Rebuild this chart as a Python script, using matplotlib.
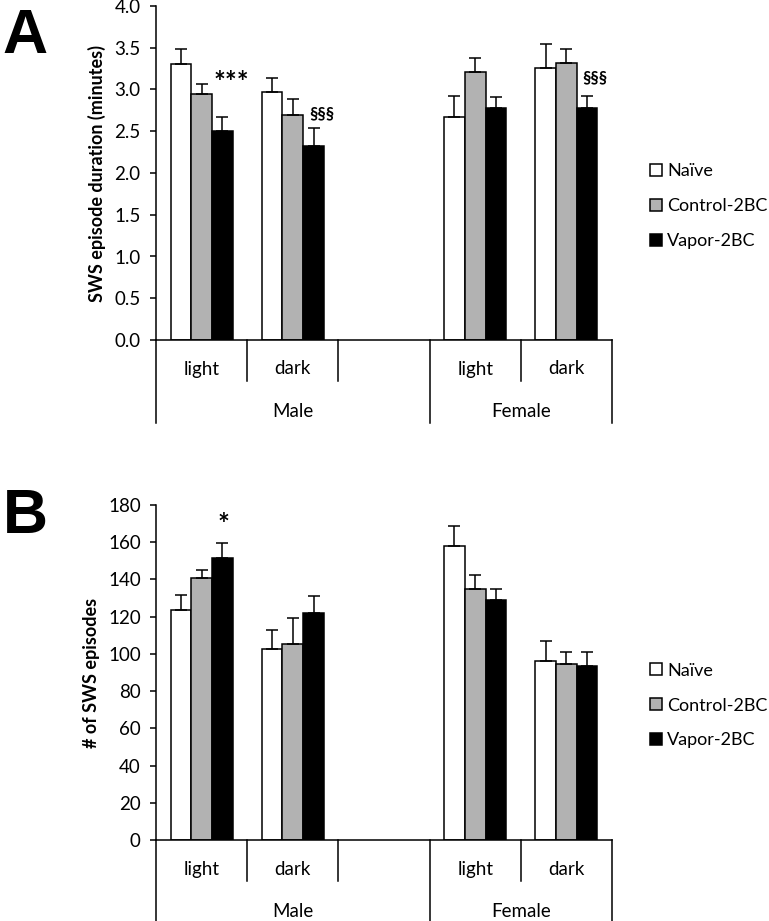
import numpy as np
import matplotlib.pyplot as plt
from matplotlib.patches import Patch
from matplotlib.transforms import blended_transform_factory

plt.rcParams['font.family'] = ['Lato', 'DejaVu Sans']

W, H = 769, 921

groups = ['Naïve', 'Control-2BC', 'Vapor-2BC']
colors = ['white', '#b2b2b2', 'black']
slots = [0, 1, 3, 4]          # slot 2 is the empty gap in the Male block
phase_labels = ['light', 'dark', 'light', 'dark']
sex_labels = ['Male', 'Female']

# panel A: SWS episode duration (minutes)
dur_naive = [3.31, 2.97, 2.67, 3.26]
dur_ctrl = [2.95, 2.70, 3.21, 3.32]
dur_vapor = [2.50, 2.32, 2.78, 2.78]
dur_naive_err = [0.18, 0.17, 0.25, 0.29]
dur_ctrl_err = [0.11, 0.19, 0.17, 0.17]
dur_vapor_err = [0.17, 0.22, 0.13, 0.14]

# panel B: number of SWS episodes
num_naive = [123.4, 102.8, 158.1, 96.3]
num_ctrl = [140.9, 105.3, 135.0, 94.4]
num_vapor = [151.7, 121.9, 128.7, 93.6]
num_naive_err = [8.4, 9.8, 10.6, 10.8]
num_ctrl_err = [4.3, 14.1, 7.3, 6.4]
num_vapor_err = [8.0, 9.3, 6.3, 7.6]

fig = plt.figure(figsize=(W / 100, H / 100), dpi=100)


def fy(py):
    # pixel row -> figure fraction
    return 1 - py / H


def make_axes(top_px, bottom_px):
    left, right = 156, 612
    return fig.add_axes([left / W, fy(bottom_px), (right - left) / W, (bottom_px - top_px) / H])


def draw_panel(ax, vals, errs, ylim, yticks, fmt, ylabel, axis_px, bottom_px):
    width = 0.227
    x = np.array(slots) + 0.5
    for i in range(3):
        xi = x + (i - 1) * width
        ax.bar(xi, vals[i], width, color=colors[i], edgecolor='black', linewidth=1.1, zorder=2)
        ax.errorbar(xi, vals[i], yerr=[np.zeros(4), errs[i]], fmt='none', ecolor='black',
                    elinewidth=1.1, capsize=4.3, capthick=1.1, zorder=3)
    ax.set_xlim(0, 5)
    ax.set_ylim(*ylim)
    ax.set_yticks(yticks)
    ax.set_yticklabels([fmt.format(t) for t in yticks])
    ax.set_xticks([])
    for s in ['top', 'right']:
        ax.spines[s].set_visible(False)
    for s in ['left', 'bottom']:
        ax.spines[s].set_linewidth(1.1)
    ax.tick_params(axis='y', length=4.5, width=1.1, labelsize=13.5, pad=6.5)
    ax.set_ylabel(ylabel, fontsize=13, fontweight='bold', labelpad=6)

    # multi-level category axis below the bars
    tr = blended_transform_factory(ax.transData, fig.transFigure)
    short_end = axis_px + 41
    long_end = axis_px + 83
    for xv in [0, 3, 5]:
        ax.plot([xv, xv], [fy(axis_px), fy(long_end)], color='black', lw=1.1,
                transform=tr, clip_on=False)
    for xv in [1, 2, 4]:
        ax.plot([xv, xv], [fy(axis_px), fy(short_end)], color='black', lw=1.1,
                transform=tr, clip_on=False)
    for s, lab in zip(slots, phase_labels):
        ax.text(s + 0.5, fy(axis_px + 29), lab, transform=tr, ha='center', va='center', fontsize=13.5)
    ax.text(1.5, fy(axis_px + 71), sex_labels[0], transform=tr, ha='center', va='center', fontsize=13.5)
    ax.text(4.0, fy(axis_px + 71), sex_labels[1], transform=tr, ha='center', va='center', fontsize=13.5)

    handles = [Patch(facecolor=c, edgecolor='black', linewidth=1.1) for c in colors]
    fig.legend(handles, groups, loc='center left', bbox_to_anchor=(650 / W, fy((axis_px + bottom_px) / 2 + 33)),
               bbox_transform=fig.transFigure, frameon=False, fontsize=13,
               handlelength=0.65, handleheight=0.65, handletextpad=0.3,
               labelspacing=1.05, borderpad=0, borderaxespad=0)


axA = make_axes(6, 340)
draw_panel(axA, [dur_naive, dur_ctrl, dur_vapor], [dur_naive_err, dur_ctrl_err, dur_vapor_err],
           (0, 4.0), np.arange(0, 4.01, 0.5), '{:.1f}', 'SWS episode duration (minutes)', 340, 6)
axA.text(0.83, 3.08, '***', ha='center', va='center', fontsize=20, fontweight='bold')
axA.text(1.82, 2.72, '§§§', ha='center', va='center', fontsize=12, fontweight='bold')
axA.text(4.81, 3.14, '§§§', ha='center', va='center', fontsize=12, fontweight='bold')

axB = make_axes(505, 840)
draw_panel(axB, [num_naive, num_ctrl, num_vapor], [num_naive_err, num_ctrl_err, num_vapor_err],
           (0, 180), np.arange(0, 181, 20), '{:.0f}', '# of SWS episodes', 840, 505)
axB.text(0.735, 169, '*', ha='center', va='center', fontsize=20, fontweight='bold')

fig.text(2 / W, fy(7), 'A', fontsize=45, fontweight='bold', family='Liberation Sans', va='top', ha='left')
fig.text(3 / W, fy(487), 'B', fontsize=45, fontweight='bold', family='Liberation Sans', va='top', ha='left')

fig.savefig('out.png', dpi=100)
